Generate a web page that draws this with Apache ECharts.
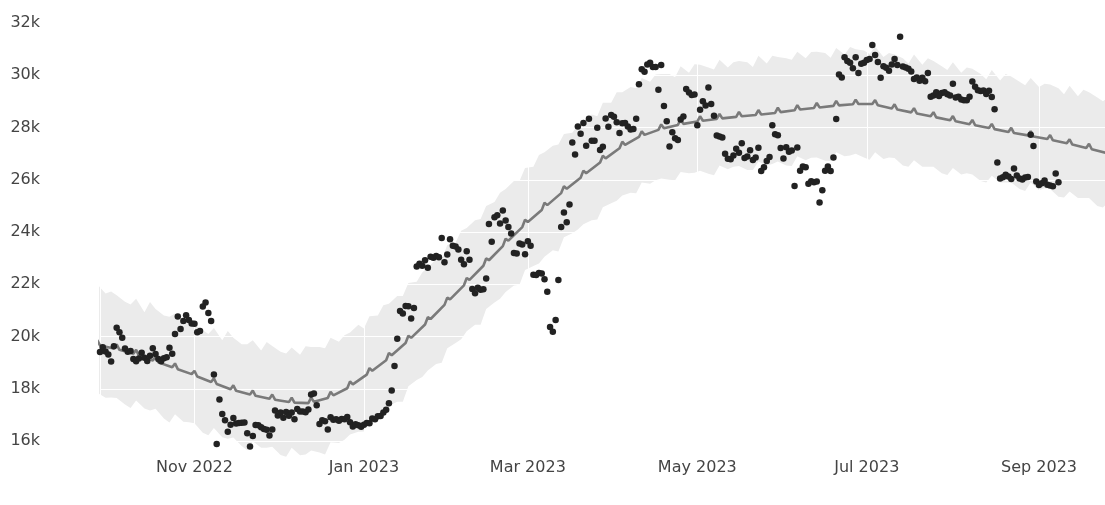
<!DOCTYPE html>
<html>
<head>
<meta charset="utf-8">
<script src="https://cdn.jsdelivr.net/npm/echarts@6/dist/echarts.min.js"></script>
<style>
  html, body { margin: 0; padding: 0; background: #fff; }
  #chart { width: 1105px; height: 505px; }
</style>
</head>
<body>
<div id="chart"></div>
<script>
// daily close, one value per day from obsStart
var obsStart = [2022, 8, 28];
var obsClose = [
    19412, 19591, 19423,
    // Oct 2022
    19311, 19044, 19623, 20336, 20160, 19955, 19546, 19417, 19446, 19141, 19051, 19157, 19382, 19185, 19067, 19268,
    19550, 19334, 19139, 19053, 19172, 19208, 19567, 19345, 20095, 20771, 20285, 20595, 20818, 20635, 20495,
    // Nov
    20485, 20159, 20209, 21148, 21299, 20905, 20591, 18547, 15883, 17587, 17034, 16799, 16354, 16618, 16884,
    16670, 16688, 16698, 16712, 16292, 15787, 16190, 16611, 16605, 16522, 16458, 16428, 16213, 16442, 17164,
    // Dec
    16977, 17092, 16886, 17106, 16967, 17089, 16836, 17224, 17128, 17128, 17104, 17206, 17782, 17816, 17364, 16647,
    16795, 16757, 16439, 16907, 16818, 16831, 16778, 16838, 16832, 16919, 16717, 16552, 16642, 16603, 16547,
    // Jan 2023
    16625, 16688, 16680, 16863, 16836, 16951, 16955, 17091, 17197, 17446, 17934, 18869, 19910, 20977, 20881, 21170,
    21161, 20688, 21087, 22679, 22784, 22707, 22917, 22633, 23056, 23018, 23079, 23032, 23774, 22840, 23139,
    // Feb
    23724, 23472, 23449, 23332, 22939, 22764, 23264, 22940, 21819, 21652, 21870, 21788, 21808, 22220, 24307, 23624,
    24565, 24641, 24328, 24829, 24437, 24188, 23947, 23198, 23175, 23562, 23522, 23147,
    // Mar
    23646, 23475, 22362, 22354, 22430, 22410, 22197, 21718, 20363, 20187, 20633, 22163, 24197, 24746, 24375, 25052,
    27423, 26965, 28038, 27767, 28175, 27307, 28333, 27493, 27494, 27994, 27139, 27268, 28348, 28033, 28478,
    // Apr
    28411, 28199, 27790, 28168, 28177, 28044, 27925, 27947, 28333, 29653, 30235, 30140, 30409, 30485, 30318, 30315,
    29445, 30397, 28823, 28245, 27276, 27817, 27591, 27525, 28307, 28423, 29474, 29340, 29248, 29268,
    // May
    28091, 28680, 29006, 28847, 29534, 28904, 28454, 27695, 27654, 27621, 27000, 26804, 26784, 26930, 27192, 27036,
    27398, 26833, 26890, 27130, 26753, 26851, 27226, 26334, 26476, 26719, 26868, 28085, 27746, 27702, 27219,
    // Jun
    26819, 27249, 27076, 27119, 25760, 27238, 26346, 26508, 26480, 25851, 25940, 25903, 25931, 25128, 25599, 26343,
    26510, 26340, 26851, 28327, 30027, 29912, 30695, 30549, 30480, 30271, 30689, 30086, 30446, 30477,
    // Jul
    30590, 30620, 31156, 30777, 30514, 29910, 30346, 30292, 30171, 30414, 30620, 30392, 31476, 30334, 30295, 30249,
    30145, 29856, 29913, 29792, 29908, 29771, 30084, 29176, 29228, 29354, 29210, 29319, 29356, 29275, 29230,
    // Aug
    29676, 29151, 29178, 29075, 29043, 29042, 29178, 29766, 29561, 29429, 29398, 29416, 29284, 29408, 29170, 28701,
    26664, 26049, 26096, 26189, 26124, 26031, 26431, 26163, 26047, 26008, 26089, 26106, 27727, 27297, 25931,
    // Sep
    25800, 25869, 25969, 25812, 25779, 25753, 26240, 25906
];

// forecast, one row per week starting on Monday weekStart
var weekStart = [2022, 8, 26];
var yhatMon = [19700, 19540, 19340, 19080, 18820, 18560, 18260, 17980, 17780, 17620, 17490, 17450, 17650, 18020,
    18540, 19090, 19750, 20460, 21210, 21960, 22710, 23460, 24190, 24840, 25490, 26080, 26660, 27210, 27640, 27910,
    28100, 28230, 28330, 28410, 28480, 28560, 28660, 28750, 28830, 28890, 28900, 28730, 28580, 28430, 28280, 28130,
    27980, 27830, 27700, 27560, 27400, 27220, 27030];
var yhatTue = [19860, 19700, 19490, 19230, 18970, 18690, 18400, 18130, 17930, 17780, 17660, 17660, 17880, 18280,
    18790, 19370, 20030, 20740, 21490, 22240, 22990, 23740, 24470, 25120, 25750, 26350, 26920, 27460, 27860, 28120,
    28300, 28430, 28520, 28600, 28670, 28760, 28860, 28940, 29020, 29070, 29050, 28890, 28740, 28590, 28440, 28290,
    28140, 27990, 27860, 27710, 27550, 27380, null];
var yhatWed = [19660, 19490, 19270, 19010, 18750, 18470, 18180, 17920, 17730, 17580, 17470, 17500, 17750, 18170,
    18690, 19280, 19950, 20670, 21420, 22170, 22920, 23670, 24380, 25030, 25660, 26250, 26820, 27340, 27720, 27970,
    28140, 28260, 28350, 28430, 28500, 28590, 28690, 28770, 28850, 28900, 28850, 28690, 28540, 28390, 28240, 28090,
    27940, 27790, 27660, 27510, 27350, 27170, null];

// uncertainty interval edges, sampled Tue / Fri / Sun of each week
var upperTue = [22000, 21580, 21450, 21050, 20880, 20460, 20330, 19950, 19860, 19640, 19580, 19600, 19950, 20150,
    20780, 21250, 22050, 22650, 23500, 24150, 25000, 25650, 26450, 27050, 27750, 28250, 28950, 29350, 29900, 30050,
    30350, 30400, 30600, 30550, 30750, 30700, 30900, 30900, 31050, 31000, 31100, 30800, 30800, 30550, 30500, 30250,
    30200, 29950, 29900, 29650, 29600, 29350, 29150];
var upperFri = [21650, 21330, 20930, 20800, 20400, 20250, 19860, 19700, 19460, 19420, 19300, 19600, 19800, 20450,
    20800, 21550, 22100, 22950, 23600, 24450, 25150, 25950, 26500, 27300, 27800, 28500, 28950, 29550, 29750, 30050,
    30100, 30300, 30300, 30500, 30450, 30650, 30650, 30850, 30800, 30950, 30700, 30650, 30400, 30350, 30100, 30050,
    29800, 29750, 29550, 29500, 29200, 29150, null];
var upperSun = [21720, 21230, 21320, 20760, 20700, 20100, 20210, 19700, 19790, 19350, 19630, 19550, 20050, 20310,
    21200, 21550, 22450, 22950, 24050, 24500, 25500, 25950, 26950, 27350, 28100, 28430, 29350, 29500, 30030, 29930,
    30420, 30220, 30500, 30320, 30750, 30600, 30890, 30670, 31080, 30820, 30850, 30450, 30650, 30200, 30300, 29850,
    30050, 29620, 29680, 29270, 29450, 29010, null];
var lowerTue = [17850, 17650, 17550, 17230, 17020, 16680, 16500, 16130, 15990, 15780, 15740, 15640, 15950, 16250,
    16850, 17350, 18100, 18700, 19550, 20200, 21050, 21700, 22550, 23050, 23800, 24300, 24950, 25400, 25900, 26050,
    26300, 26350, 26550, 26530, 26700, 26700, 26900, 26850, 27050, 27000, 27050, 26830, 26750, 26500, 26450, 26200,
    26150, 25900, 25900, 25650, 25550, 25300, 25150];
var lowerFri = [17660, 17400, 17240, 16860, 16740, 16320, 16140, 15810, 15740, 15460, 15450, 15560, 15920, 16350,
    16990, 17500, 18340, 18950, 19750, 20450, 21300, 21950, 22700, 23300, 23950, 24450, 25100, 25500, 25850, 26000,
    26250, 26230, 26400, 26370, 26550, 26550, 26750, 26730, 26900, 26850, 26800, 26550, 26500, 26250, 26200, 25950,
    25900, 25650, 25600, 25350, 25300, 25000, null];
var lowerSun = [17670, 17260, 17170, 16710, 16720, 16220, 16090, 15650, 15740, 15400, 15480, 15480, 16050, 16360,
    17050, 17500, 18450, 19000, 19900, 20450, 21450, 21980, 22800, 23250, 24100, 24480, 25200, 25480, 25980, 25980,
    26270, 26170, 26500, 26370, 26600, 26530, 26840, 26720, 26930, 26770, 26850, 26500, 26500, 26180, 26250, 25900,
    25900, 25570, 25680, 25320, 25300, 24940, null];

var monthNames = ['Jan', 'Feb', 'Mar', 'Apr', 'May', 'Jun', 'Jul', 'Aug', 'Sep', 'Oct', 'Nov', 'Dec'];

var DAY = 864e5;
var t0 = Date.UTC(obsStart[0], obsStart[1], obsStart[2]);
var w0 = Date.UTC(weekStart[0], weekStart[1], weekStart[2]);

var obsData = obsClose.map(function(v, i) { return [t0 + i * DAY, v]; });

var yhatData = [];
var bandLow = [], bandDiff = [];
function addBand(t, lo, hi) {
    if (lo == null) return;
    bandLow.push([t, lo]);
    bandDiff.push([t, hi - lo]);
}
for (var k = 0; k < yhatMon.length; k++) {
    var mon = w0 + k * 7 * DAY;
    yhatData.push([mon, yhatMon[k]]);
    if (yhatTue[k] != null) yhatData.push([mon + DAY, yhatTue[k]]);
    if (yhatWed[k] != null) yhatData.push([mon + 2 * DAY, yhatWed[k]]);
    addBand(mon + DAY, lowerTue[k], upperTue[k]);
    addBand(mon + 4 * DAY, lowerFri[k], upperFri[k]);
    addBand(mon + 6 * DAY, lowerSun[k], upperSun[k]);
}

var font = 'DejaVu Sans';
var chart = echarts.init(document.getElementById('chart'));
chart.setOption({
    animation: false,
    useUTC: true,
    grid: { left: 100, right: 0, top: 10, bottom: 46 },
    xAxis: {
        type: 'time',
        min: t0,
        max: Date.UTC(2023, 8, 24, 18),
        z: 3,
        axisLine: { show: false },
        axisTick: { show: false },
        splitLine: { show: true, lineStyle: { color: '#fff', width: 1 } },
        axisLabel: {
            margin: 1,
            color: '#444',
            fontSize: 16,
            fontFamily: font,
            showMinLabel: false,
            showMaxLabel: false,
            formatter: function(v) {
                var d = new Date(v);
                return monthNames[d.getUTCMonth()] + ' ' + d.getUTCFullYear();
            }
        }
    },
    yAxis: {
        type: 'value',
        min: 15311,
        max: 32500,
        minInterval: 2000,
        maxInterval: 2000,
        z: 3,
        axisLine: { show: false },
        axisTick: { show: false },
        splitLine: { show: true, lineStyle: { color: '#fff', width: 1 } },
        axisLabel: {
            margin: 60,
            color: '#444',
            fontSize: 16,
            fontFamily: font,
            showMinLabel: false,
            showMaxLabel: false,
            formatter: function(v) { return (v / 1000) + 'k'; }
        }
    },
    series: [{
        type: 'line',
        data: bandLow,
        stack: 'band',
        symbol: 'none',
        silent: true,
        lineStyle: { opacity: 0 },
        z: 1
    }, {
        type: 'line',
        data: bandDiff,
        stack: 'band',
        symbol: 'none',
        silent: true,
        lineStyle: { opacity: 0 },
        areaStyle: { color: '#ebebeb', opacity: 1 },
        z: 1
    }, {
        type: 'line',
        data: yhatData,
        symbol: 'none',
        lineStyle: { color: '#7a7a7a', width: 2.6 },
        z: 4
    }, {
        type: 'scatter',
        data: obsData,
        symbolSize: 6.5,
        itemStyle: { color: '#222', opacity: 1 },
        z: 5
    }]
});
</script>
</body>
</html>
